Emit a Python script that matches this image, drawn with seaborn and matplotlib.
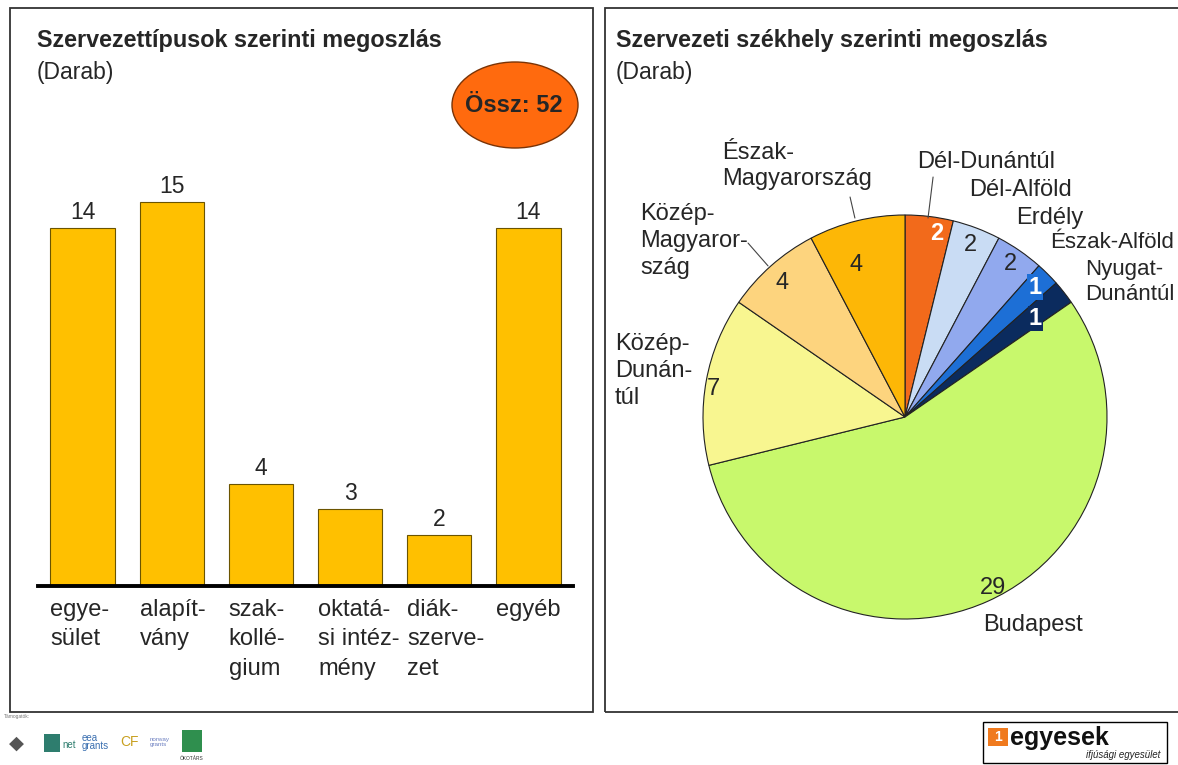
import numpy as np
import pandas as pd
import seaborn as sns
import matplotlib.pyplot as plt
from matplotlib.patches import Rectangle, Ellipse

# --- data -------------------------------------------------------------
bar_labels = ["egye-\nsület", "alapít-\nvány", "szak-\nkollé-\ngium",
              "oktatá-\nsi intéz-\nmény", "diák-\nszerve-\nzet", "egyéb"]
bar_values = [14, 15, 4, 3, 2, 14]
total_label = "Össz: 52"

pie_names = ["Dél-Dunántúl", "Dél-Alföld", "Erdély", "Észak-Alföld",
             "Nyugat-\nDunántúl", "Budapest", "Közép-\nDunán-\ntúl",
             "Közép-\nMagyaror-\nszág", "Észak-\nMagyarország"]
pie_values = [2, 2, 2, 1, 1, 29, 7, 4, 4]
pie_colors = ["#F26A1B", "#C9DCF4", "#91A9EE", "#1D6FD6", "#0B2B5E",
              "#C8F86C", "#F8F690", "#FDD47E", "#FDB706"]

sns.set_theme(style="white")
plt.rcParams['font.family'] = ['Liberation Sans', 'DejaVu Sans']

W, H = 1178, 765
fig = plt.figure(figsize=(W / 100, H / 100), dpi=100)


def fx(px):
    return px / W


def fy(py):
    return 1 - py / H


# panel frames
for x0, x1 in [(10, 593), (605, 1185)]:
    fig.add_artist(Rectangle((fx(x0), fy(712)), fx(x1 - x0), (712 - 8) / H,
                             transform=fig.transFigure, fill=False,
                             edgecolor="#333333", linewidth=1.3))

# titles
fig.text(fx(37), fy(41), "Szervezettípusok szerinti megoszlás", fontsize=16.8,
         fontweight="bold", va="center", ha="left")
fig.text(fx(37), fy(72), "(Darab)", fontsize=16.5, va="center", ha="left")
fig.text(fx(616), fy(41), "Szervezeti székhely szerinti megoszlás", fontsize=16.8,
         fontweight="bold", va="center", ha="left")
fig.text(fx(616), fy(72), "(Darab)", fontsize=16.5, va="center", ha="left")

# --- bar chart --------------------------------------------------------
ax = fig.add_axes([fx(38), fy(586), fx(573 - 38), (586 - 100) / H])
df = pd.DataFrame({"tipus": bar_labels, "db": bar_values})
sns.barplot(data=df, x="tipus", y="db", color="#FFC000", saturation=1,
            width=0.72, edgecolor="#6B5400", linewidth=0.8, ax=ax)
ax.set_xlim(-0.5, len(bar_values) - 0.5)
ax.set_ylim(0, 19)
ax.bar_label(ax.containers[0], fontsize=16.5, padding=3)
ax.set_xticks([])
ax.set_yticks([])
ax.set_xlabel("")
ax.set_ylabel("")
for s in ["top", "left", "right"]:
    ax.spines[s].set_visible(False)
ax.spines["bottom"].set_linewidth(2.8)
ax.spines["bottom"].set_color("black")
ax.patch.set_alpha(0)
for i, lab in enumerate(bar_labels):
    ax.text(i - 0.36, -0.026, lab, transform=ax.get_xaxis_transform(),
            ha="left", va="top", fontsize=17, linespacing=1.46)

# total badge
fig.add_artist(Ellipse((fx(515), fy(105)), fx(126), 86 / H,
                       transform=fig.transFigure, facecolor="#FF6A0E",
                       edgecolor="#7A3306", linewidth=1.0))
fig.text(fx(514), fy(105), total_label, fontsize=17, fontweight="bold",
         ha="center", va="center")

# --- pie chart --------------------------------------------------------
R = 202
pax = fig.add_axes([fx(905 - R), fy(417 + R), fx(2 * R), 2 * R / H])
wedges, _ = pax.pie(pie_values, colors=pie_colors, startangle=90,
                    counterclock=False, radius=1,
                    wedgeprops=dict(edgecolor="#222222", linewidth=0.8))
pax.set_xlim(-1, 1)
pax.set_ylim(-1, 1)
pax.axis("off")
for w in wedges:
    w.set_clip_on(False)

# value labels inside the slices
val_r = [0.92, 0.91, 0.92, 0.91, 0.81, 0.95, 0.96, 0.90, 0.79]
val_shift = [-3, 0, 0, 0, -1, 3, 2, 1, 4]
val_style = ["wb", "n", "n", "wbox", "wbox", "n", "n", "n", "n"]
for w, v, r, sh, st in zip(wedges, pie_values, val_r, val_shift, val_style):
    ang = np.deg2rad((w.theta1 + w.theta2) / 2 + sh)
    x, y = r * np.cos(ang), r * np.sin(ang)
    if st == "n":
        pax.text(x, y, str(v), ha="center", va="center", fontsize=17)
    elif st == "wb":
        pax.text(x, y, str(v), ha="center", va="center", fontsize=17,
                 color="white", fontweight="bold")
    else:
        pax.text(x, y, str(v), ha="center", va="center", fontsize=17,
                 color="white", fontweight="bold",
                 bbox=dict(boxstyle="square,pad=0.05", fc=w.get_facecolor(),
                           ec="none"))

# category labels around the pie
name_pos = [(0.401, 1.262, "center", 17), (0.574, 1.124, "center", 17),
            (0.718, 0.985, "center", 17), (0.718, 0.866, "left", 16),
            (0.890, 0.668, "left", 16), (0.634, -1.030, "center", 17),
            (-1.436, 0.228, "left", 17), (-1.312, 0.871, "left", 17),
            (-0.906, 1.243, "left", 17)]
for name, (x, y, ha, fs) in zip(pie_names, name_pos):
    pax.text(x, y, name, ha=ha, va="center", fontsize=fs,
             linespacing=1.27, multialignment="left")

# leader lines
for (x0, y0), (x1, y1) in [((0.139, 1.188), (0.114, 0.985)),
                           ((-0.272, 1.089), (-0.248, 0.985)),
                           ((-0.777, 0.861), (-0.678, 0.748))]:
    pax.plot([x0, x1], [y0, y1], color="#444444", linewidth=0.8,
             clip_on=False)

# --- footer logos -----------------------------------------------------
fig.text(fx(4), fy(718), "Támogatók:", fontsize=3.5, color="#777777")
fig.text(fx(16), fy(744), "◆", fontsize=14, color="#555555", ha="center",
         va="center")
fig.add_artist(Rectangle((fx(44), fy(752)), fx(16), 18 / H,
                         transform=fig.transFigure, facecolor="#2E7D6E",
                         edgecolor="none"))
fig.text(fx(62), fy(745), "net", fontsize=7, color="#2E7D6E", va="center")
fig.text(fx(82), fy(742), "eea\ngrants", fontsize=7, color="#3A6FB0",
         va="center", linespacing=0.8)
fig.text(fx(120), fy(742), "CF", fontsize=10, color="#C8A020", va="center")
fig.text(fx(150), fy(742), "norway\ngrants", fontsize=4.5, color="#6C7FC0",
         va="center", linespacing=0.9)
fig.add_artist(Rectangle((fx(182), fy(752)), fx(20), 22 / H,
                         transform=fig.transFigure, facecolor="#2F8F4E",
                         edgecolor="none"))
fig.text(fx(192), fy(758), "ÖKOTÁRS", fontsize=3.5, color="#333333",
         ha="center", va="center")

fig.add_artist(Rectangle((fx(983), fy(763)), fx(184), (763 - 722) / H,
                         transform=fig.transFigure, facecolor="white",
                         edgecolor="black", linewidth=1.0))
fig.add_artist(Rectangle((fx(988), fy(746)), fx(20), 18 / H,
                         transform=fig.transFigure, facecolor="#F07A1E",
                         edgecolor="none"))
fig.text(fx(998), fy(737), "1", fontsize=10, fontweight="bold",
         color="white", ha="center", va="center")
fig.text(fx(1010), fy(738), "egyesek", fontsize=18, fontweight="bold",
         va="center", ha="left", color="#111111")
fig.text(fx(1160), fy(755), "ifjúsági egyesület", fontsize=7,
         style="italic", va="center", ha="right", color="#222222")

fig.savefig("out.png", dpi=100, facecolor="white")
